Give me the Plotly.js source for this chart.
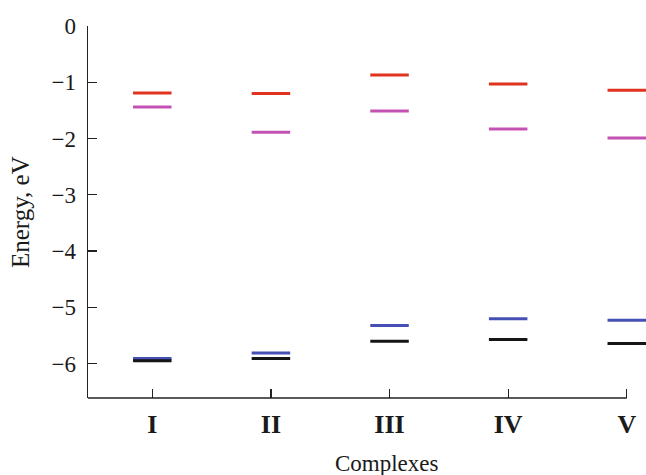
<!DOCTYPE html>
<html>
<head>
<meta charset="utf-8">
<script src="https://cdn.plot.ly/plotly-3.0.1.min.js"></script>
<style>html,body{margin:0;padding:0;background:#fff;}#chart{width:646px;height:475px;}</style>
</head>
<body>
<div id="chart"></div>
<script>
const categories = ['I', 'II', 'III', 'IV', 'V'];
const redLevels = [-1.19, -1.20, -0.87, -1.03, -1.14];
const magentaLevels = [-1.44, -1.89, -1.51, -1.83, -1.99];
const blueLevels = [-5.91, -5.81, -5.32, -5.20, -5.23];
const blackLevels = [-5.95, -5.91, -5.60, -5.57, -5.64];
const yTicks = [0, -1, -2, -3, -4, -5, -6];

const FONT = '"Liberation Serif", "Times New Roman", serif';

function levelTrace(vals, color, name) {
  return {
    type: 'scatter', mode: 'markers', name: name,
    x: categories, y: vals,
    marker: {symbol: 'line-ew', size: 27.5, color: color, line: {color: color, width: 3}},
    hoverinfo: 'x+y', showlegend: false, cliponaxis: false
  };
}

const data = [
  levelTrace(redLevels, '#e0321f', 'red'),
  levelTrace(magentaLevels, '#c452b4', 'magenta'),
  levelTrace(blueLevels, '#4650b4', 'blue'),
  levelTrace(blackLevels, '#151515', 'black')
];

const xRange = [-0.542, 4.162];
const layout = {
  width: 646, height: 475,
  margin: {l: 88, r: 0, t: 26, b: 77},
  paper_bgcolor: '#fff', plot_bgcolor: '#fff',
  font: {family: FONT, color: '#1a1a1a', size: 23},
  xaxis: {
    type: 'category', range: xRange,
    showline: false, showgrid: false, zeroline: false,
    ticks: 'inside', ticklen: 9, tickwidth: 1.3, tickcolor: '#222',
    tickfont: {family: FONT, size: 26, weight: 'bold', color: '#1a1a1a'},
    ticklabelstandoff: 8
  },
  yaxis: {
    range: [-6.61, 0], tickvals: yTicks,
    showline: true, linecolor: '#222', linewidth: 1.3,
    showgrid: false, zeroline: false,
    ticks: 'inside', ticklen: 9, tickwidth: 1.3, tickcolor: '#222',
    tickfont: {family: FONT, size: 23, color: '#1a1a1a'},
    ticklabelstandoff: 6
  },
  shapes: [{
    type: 'line', xref: 'x', yref: 'paper',
    x0: xRange[0], x1: categories.length - 1, y0: 0, y1: 0,
    line: {color: '#222', width: 1.3}
  }],
  annotations: [
    {text: 'Energy, eV', textangle: -90, xref: 'paper', yref: 'paper', x: 0, y: 0.5,
     xanchor: 'center', yanchor: 'middle', xshift: -68, showarrow: false,
     font: {family: FONT, size: 25, color: '#1a1a1a'}},
    {text: 'Complexes', xref: 'x', yref: 'paper', x: 2, y: 0,
     xanchor: 'center', yanchor: 'middle', yshift: -65, xshift: -3, showarrow: false,
     font: {family: FONT, size: 23, color: '#1a1a1a'}}
  ]
};

Plotly.newPlot('chart', data, layout, {displayModeBar: false, staticPlot: true});
</script>
</body>
</html>
